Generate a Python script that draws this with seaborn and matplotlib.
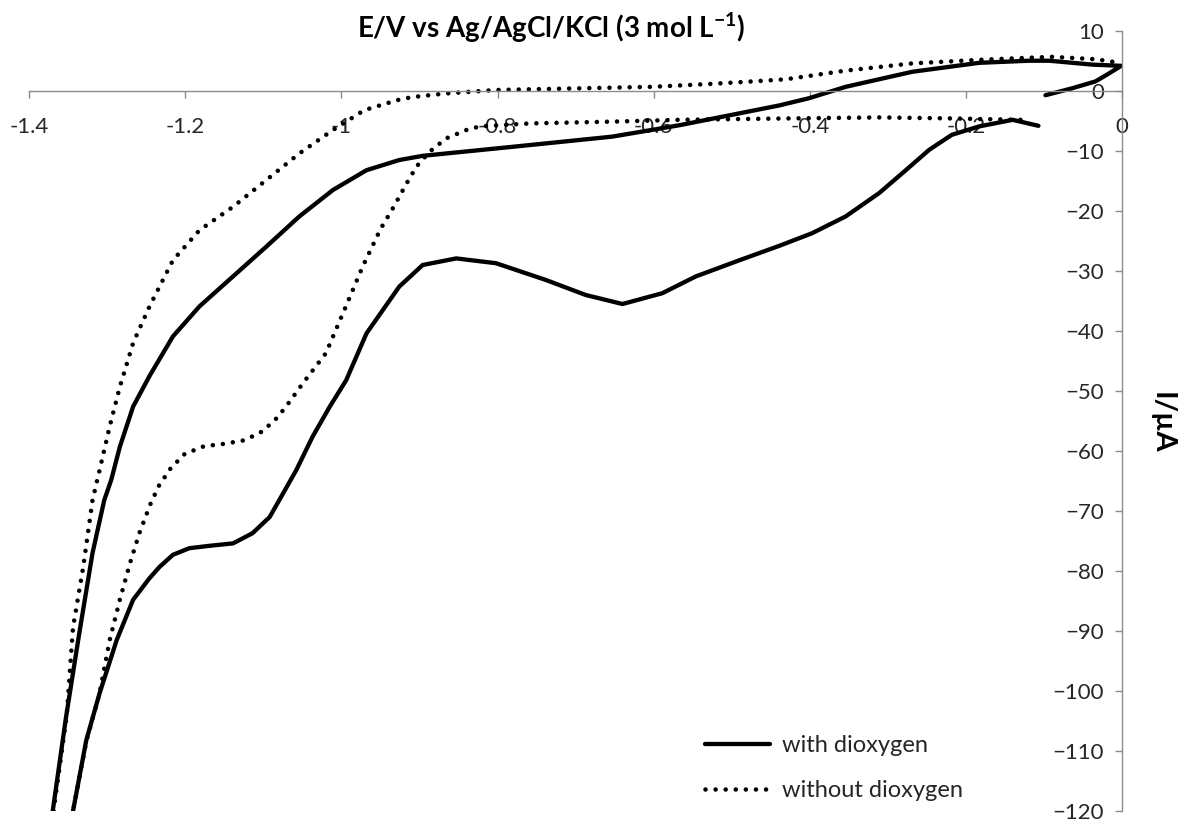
import matplotlib
matplotlib.use("Agg")
import matplotlib.pyplot as plt
import pandas as pd
import seaborn as sns

# with dioxygen, branch 1: start near -0.1 V, hook up to 0 V, then sweep down to the cut-off
e_with_down = [-0.098, -0.064, -0.034, -0.017, -0.001, -0.038, -0.093, -0.119, -0.183,
               -0.269, -0.354, -0.401, -0.439, -0.567, -0.653, -0.781, -0.896, -0.926,
               -0.968, -1.011, -1.054, -1.096, -1.139, -1.182, -1.216, -1.246, -1.267,
               -1.284, -1.295, -1.304, -1.319, -1.336, -1.353, -1.370]
i_with_down = [-0.7, 0.45, 1.6, 2.9, 4.2, 4.4, 5.05, 5.05, 4.7,
               3.2, 0.7, -1.2, -2.4, -5.7, -7.6, -9.3, -10.8, -11.5,
               -13.2, -16.5, -20.9, -25.9, -30.9, -35.9, -40.9, -47.5, -52.6,
               -59.3, -64.8, -68.2, -77.0, -90.4, -104.4, -120.0]
# with dioxygen, branch 2: back from the cut-off towards -0.1 V
e_with_up = [-1.344, -1.327, -1.310, -1.288, -1.267, -1.246, -1.233, -1.216, -1.195,
             -1.169, -1.139, -1.114, -1.092, -1.075, -1.058, -1.037, -1.015, -0.994,
             -0.968, -0.926, -0.896, -0.853, -0.802, -0.738, -0.687, -0.640, -0.589,
             -0.546, -0.490, -0.439, -0.397, -0.354, -0.311, -0.277, -0.247, -0.218,
             -0.183, -0.140, -0.107]
i_with_up = [-120.0, -108.2, -100.4, -91.5, -84.8, -81.2, -79.3, -77.3, -76.2,
             -75.8, -75.4, -73.7, -71.0, -67.1, -63.2, -57.6, -52.6, -48.2,
             -40.4, -32.6, -29.0, -27.9, -28.7, -31.5, -34.0, -35.5, -33.7,
             -30.9, -28.2, -25.8, -23.7, -20.9, -17.0, -13.2, -9.8, -7.3,
             -5.9, -4.8, -5.8]

# without dioxygen, branch 1: sweep down
e_without_down = [-0.130, -0.226, -0.311, -0.448, -0.567, -0.653, -0.759, -0.823, -0.840,
                  -0.866, -0.887, -0.904, -0.917, -0.934, -0.950, -0.973, -0.998, -1.020,
                  -1.050, -1.066, -1.082, -1.101, -1.124, -1.150, -1.176, -1.201, -1.219,
                  -1.234, -1.245, -1.259, -1.271, -1.284, -1.297, -1.310, -1.327, -1.344]
i_without_down = [-4.8, -4.55, -4.4, -4.6, -4.8, -5.1, -5.4, -5.9, -6.5,
                  -7.9, -10.1, -12.6, -15.5, -19.5, -23.0, -29.3, -37.0, -43.7,
                  -48.8, -51.7, -54.4, -56.7, -58.2, -58.8, -59.2, -60.5, -62.9,
                  -65.8, -68.9, -73.7, -78.7, -84.8, -91.5, -100.4, -108.4, -120.0]
# without dioxygen, branch 2: sweep back up
e_without_up = [-1.369, -1.352, -1.344, -1.331, -1.319, -1.310, -1.297, -1.284, -1.267,
                -1.246, -1.216, -1.182, -1.139, -1.096, -1.054, -1.011, -0.971, -0.928,
                -0.909, -0.866, -0.802, -0.695, -0.602, -0.525, -0.461, -0.431, -0.354,
                -0.269, -0.183, -0.090, -0.034, -0.008]
i_without_up = [-120.0, -104.0, -89.4, -79.4, -68.2, -63.2, -55.9, -49.3, -42.0,
                -35.9, -28.2, -23.2, -19.3, -14.8, -10.4, -6.5, -3.2, -1.5,
                -1.0, -0.4, 0.17, 0.45, 0.7, 1.2, 1.7, 1.95, 3.4,
                4.6, 5.2, 5.7, 5.3, 4.8]

x_ticks = [-1.4, -1.2, -1.0, -0.8, -0.6, -0.4, -0.2, 0.0]
x_labels = ["-1.4", "-1.2", "-1", "-0.8", "-0.6", "-0.4", "-0.2", "0"]
y_ticks = list(range(-120, 11, 10))


def branches(e1, i1, e2, i2):
    return pd.DataFrame({
        "E": e1 + e2,
        "I": i1 + i2,
        "branch": [1] * len(e1) + [2] * len(e2),
    })


df_with = branches(e_with_down, i_with_down, e_with_up, i_with_up)
df_without = branches(e_without_down, i_without_down, e_without_up, i_without_up)

sns.set_style("white")
plt.rcParams["font.family"] = ["Lato", "DejaVu Sans"]
plt.rcParams["mathtext.fontset"] = "custom"
plt.rcParams["mathtext.rm"] = "Lato"
plt.rcParams["mathtext.bf"] = "Lato:bold"

fig = plt.figure(figsize=(11.82, 8.23), dpi=100)
ax = fig.add_axes([0.0248, 0.0146, 0.9244, 0.9477])

sns.lineplot(data=df_with, x="E", y="I", units="branch", sort=False, estimator=None,
             ax=ax, color="black", lw=3.1, solid_capstyle="round",
             solid_joinstyle="round", label="with dioxygen")
sns.lineplot(data=df_without, x="E", y="I", units="branch", sort=False, estimator=None,
             ax=ax, color="black", lw=3.3, linestyle=(0, (0.001, 2.2)),
             dash_capstyle="round", label="without dioxygen")

ax.set_xlim(-1.4, 0)
ax.set_ylim(-120, 10)
ax.set_xticks(x_ticks)
ax.set_xticklabels(x_labels)
ax.set_yticks(y_ticks)
ax.set_xlabel("")
ax.set_ylabel("")

# Excel-style axes crossing at the origin
ax.spines["bottom"].set_position(("data", 0))
ax.spines["left"].set_position(("data", 0))
ax.spines["top"].set_visible(False)
ax.spines["right"].set_visible(False)
for s in ("bottom", "left"):
    ax.spines[s].set_color("#8c8c8c")
    ax.spines[s].set_linewidth(1.0)

ax.tick_params(axis="x", bottom=True, direction="out", length=5, width=1.0,
               color="#8c8c8c", pad=14, labelsize=16, labelcolor="#262626")
ax.tick_params(axis="y", left=True, direction="out", length=5, width=1.0,
               color="#8c8c8c", pad=8, labelsize=16, labelcolor="#262626")

fig.text(551 / 1182, 1 - 28 / 823,
         r"E/V vs Ag/AgCl/KCl (3 mol L$^{\mathbf{-1}}$)",
         ha="center", va="center", fontsize=20, fontweight="bold", color="black")
fig.text(1162 / 1182, 1 - 423 / 823, "I/µA", rotation=270,
         ha="center", va="center", fontsize=21, fontweight="bold", color="black")

# one legend entry per series
handles, labels = ax.get_legend_handles_labels()
seen = {}
for h, l in zip(handles, labels):
    seen.setdefault(l, h)
ax.legend(list(seen.values()), list(seen.keys()),
          loc="center left", bbox_to_anchor=(705 / 1182, 1 - 768 / 823),
          bbox_transform=fig.transFigure, frameon=False, fontsize=17,
          handlelength=2.75, handletextpad=0.5, labelspacing=1.0,
          borderpad=0, borderaxespad=0)

fig.savefig("out.png", dpi=100)
